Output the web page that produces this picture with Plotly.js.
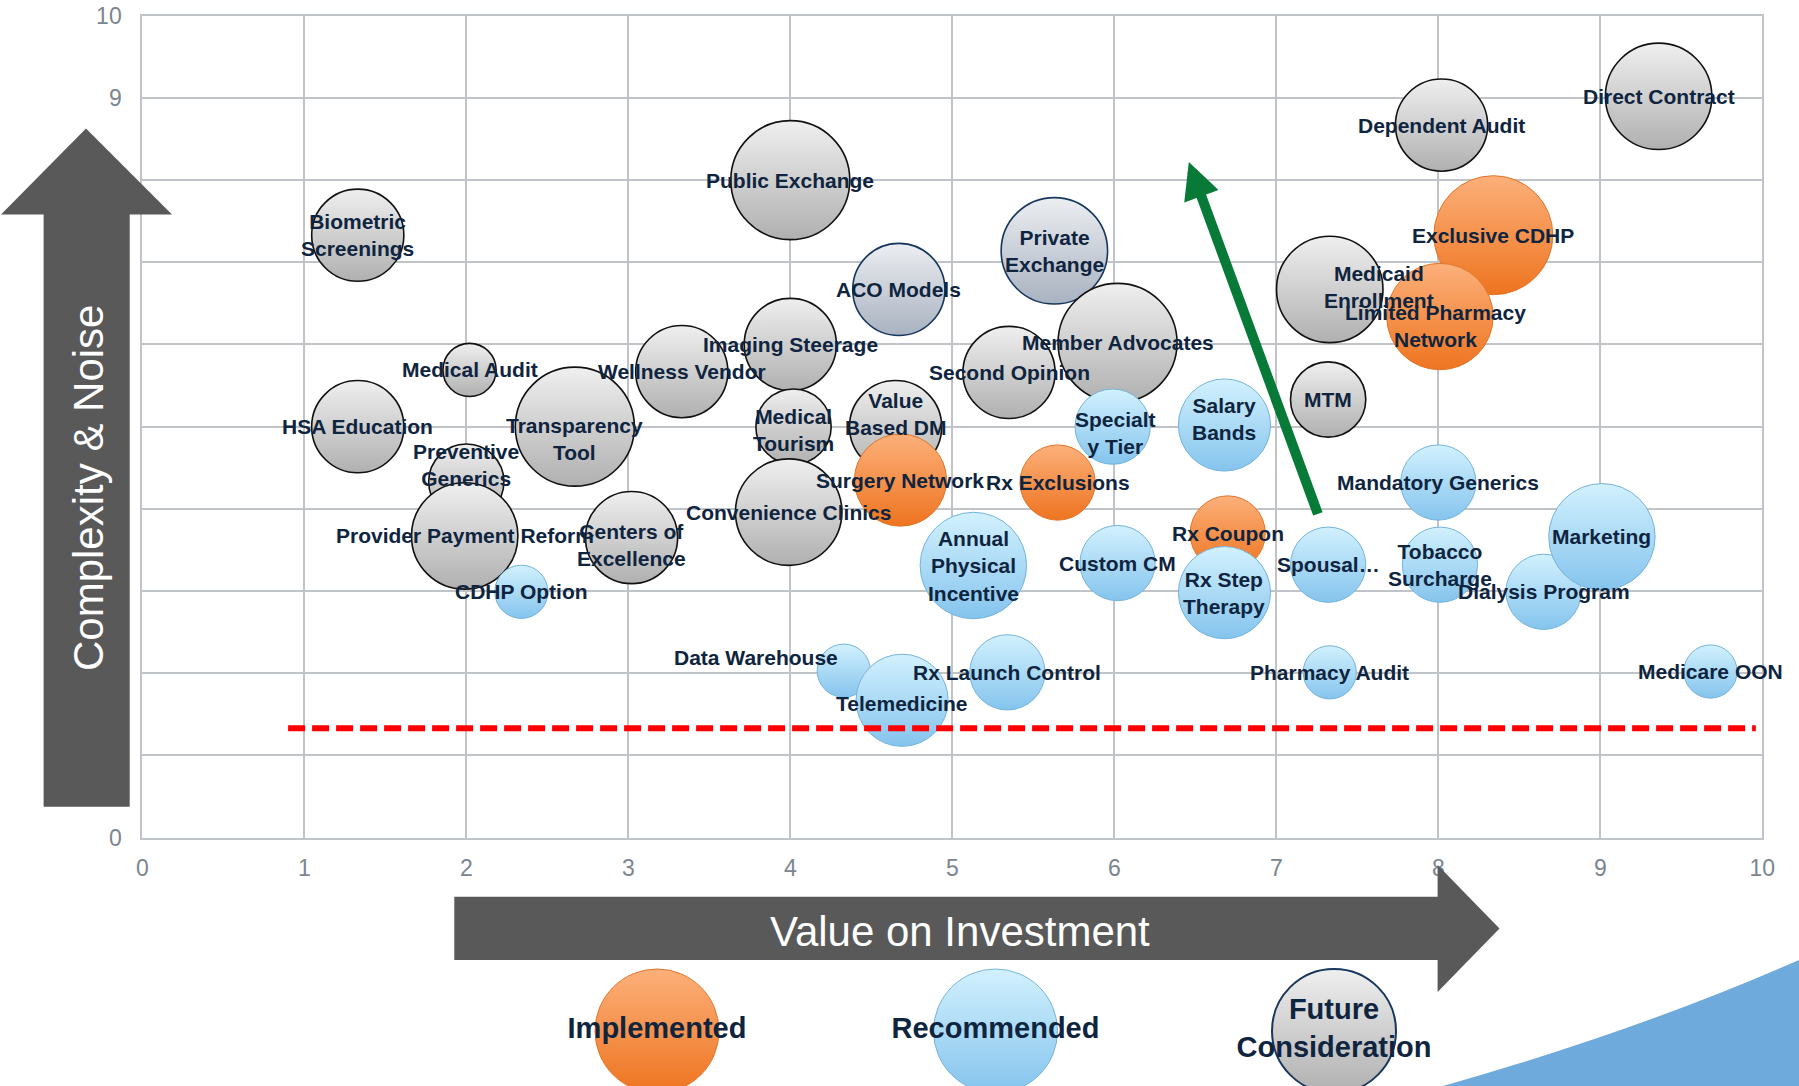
<!DOCTYPE html>
<html><head><meta charset="utf-8">
<script src="https://cdn.plot.ly/plotly-3.0.1.min.js"></script>
<style>html,body{margin:0;padding:0;background:#fff;overflow:hidden}#chart{width:1799px;height:1086px}</style>
</head><body><div id="chart"></div>
<script>
// ---------------- DATA ----------------
const labels = [
  'Biometric<br>Screenings','Public Exchange','Direct Contract','Dependent Audit','ACO Models',
  'Private<br>Exchange','Imaging Steerage','Medical Audit','Wellness Vendor','HSA Education',
  'Transparency<br>Tool','Preventive<br>Generics','Medical<br>Tourism','Value<br>Based DM','Second Opinion',
  'Member Advocates','Medicaid<br>Enrollment','MTM','Convenience Clinics','Provider Payment Reform',
  'Centers of<br>Excellence',
  'Exclusive CDHP','Limited Pharmacy<br>Network','Surgery Network','Rx Exclusions','Rx Coupon',
  'Specialt<br>y Tier','Salary<br>Bands','Mandatory Generics','Annual<br>Physical<br>Incentive','Custom CM',
  'Rx Step<br>Therapy','Spousal…','Tobacco<br>Surcharge','Dialysis Program','Marketing',
  'CDHP Option','Data Warehouse','Telemedicine','Rx Launch Control','Pharmacy Audit','Medicare OON'
];
const valueOnInvestment = [
  1.33, 4.00, 9.36, 8.02, 4.67,
  5.63, 4.00, 2.02, 3.33, 1.33,
  2.67, 2.00, 4.02, 4.65, 5.35,
  6.02, 7.33, 7.32, 3.99, 1.99,
  3.02,
  8.34, 8.01, 4.68, 5.65, 6.70,
  5.99, 6.68, 8.00, 5.13, 6.02,
  6.68, 7.32, 8.01, 8.65, 9.01,
  2.34, 4.33, 4.69, 5.34, 7.33, 9.68
];
const complexityNoise = [
  7.33, 8.00, 9.02, 8.67, 6.67,
  7.14, 6.00, 5.69, 5.67, 5.00,
  5.00, 4.33, 5.00, 5.00, 5.66,
  6.02, 6.67, 5.33, 3.96, 3.67,
  3.65,
  7.33, 6.34, 4.35, 4.32, 3.70,
  5.00, 5.02, 4.32, 3.31, 3.34,
  2.98, 3.32, 3.32, 2.99, 3.66,
  2.99, 2.03, 1.67, 2.01, 2.01, 2.02
];
const bubbleSize = [
  3, 5, 4, 3, 3,
  4, 3, 1, 3, 3,
  5, 2, 2, 3, 3,
  5, 4, 2, 4, 4,
  3,
  5, 4, 3, 2, 2,
  2, 3, 2, 4, 2,
  3, 2, 2, 2, 4,
  1, 1, 3, 2, 1, 1
];
const status = [
  'Future Consideration','Future Consideration','Future Consideration','Future Consideration','Future Consideration',
  'Future Consideration','Future Consideration','Future Consideration','Future Consideration','Future Consideration',
  'Future Consideration','Future Consideration','Future Consideration','Future Consideration','Future Consideration',
  'Future Consideration','Future Consideration','Future Consideration','Future Consideration','Future Consideration',
  'Future Consideration',
  'Implemented','Implemented','Implemented','Implemented','Implemented',
  'Recommended','Recommended','Recommended','Recommended','Recommended',
  'Recommended','Recommended','Recommended','Recommended','Recommended',
  'Recommended','Recommended','Recommended','Recommended','Recommended','Recommended'
];
const statusDrawOrder = ['Future Consideration','Implemented','Recommended'];
const legendStatus = ['Implemented','Recommended','Future Consideration'];
const legendText = ['Implemented','Recommended','Future<br>Consideration'];
const axisTicks = [0,1,2,3,4,5,6,7,8,9,10];
const thresholdComplexity = 1.33;
const thresholdSpan = [0.9, 9.96];
const trendFrom = [7.26, 3.92];
const trendTo = [6.46, 8.22];
const xTitle = 'Value on Investment';
const yTitle = 'Complexity &amp; Noise';

// ---------------- STYLE ----------------
const W = 1799, H = 1086;
const PL = 142.3, PR = 1762.3, PT = 15.8, PB = 837.5;
const px = v => v / W, py = v => 1 - v / H;
const FONT = 'Liberation Sans, Arial, Helvetica, sans-serif';
const TEXT_COLOR = '#0f243e';
const STYLE = {
  'Implemented':          {top: '#fcb07a', bottom: '#ee7420', line: '#e27528', lw: 1},
  'Recommended':          {top: '#d2f1fe', bottom: '#85c4ed', line: '#74b4dd', lw: 1},
  'Future Consideration': {top: '#efefef', bottom: '#b0b0b0', line: '#111111', lw: 1.6}
};
const NAVY = {top: '#eceef1', bottom: '#a9b2c1', line: '#17375e', lw: 1.6};
const navyBubbles = ['ACO Models', 'Private<br>Exchange'];
const labelShift = {
  'Medicaid<br>Enrollment': [49, 2],
  'Data Warehouse': [-88, 13],
  'Value<br>Based DM': [0, 13],
  'Preventive<br>Generics': [0, 17],
  'Transparency<br>Tool': [0, -12],
  'Limited Pharmacy<br>Network': [-4, -9],
  'Salary<br>Bands': [0, 6],
  'Specialt<br>y Tier': [3, -6],
  'Centers of<br>Excellence': [0, -7],
  'Medical<br>Tourism': [0, -3],
  'Telemedicine': [0, -3]
};
const maxDiameter = 119;
const sizeref = 2 * Math.max(...bubbleSize) / (maxDiameter * maxDiameter);

// ---------------- TRACES ----------------
const traces = statusDrawOrder.map(st => {
  const idx = labels.map((_, i) => i).filter(i => status[i] === st);
  const sty = i => navyBubbles.includes(labels[i]) ? NAVY : STYLE[st];
  return {
    type: 'scatter', mode: 'markers', name: st, showlegend: false,
    x: idx.map(i => valueOnInvestment[i]),
    y: idx.map(i => complexityNoise[i]),
    text: idx.map(i => labels[i]),
    hoverinfo: 'text',
    cliponaxis: false,
    marker: {
      size: idx.map(i => bubbleSize[i]),
      sizemode: 'area', sizeref: sizeref,
      color: idx.map(i => sty(i).top),
      gradient: {type: 'vertical', color: idx.map(i => sty(i).bottom)},
      line: {color: idx.map(i => sty(i).line), width: idx.map(i => sty(i).lw)},
      opacity: 1
    }
  };
});

traces.push({
  type: 'scatter', mode: 'markers+text', xaxis: 'x2', yaxis: 'y2', showlegend: false,
  x: legendStatus.map((_, i) => i),
  y: legendStatus.map(() => 0),
  text: legendText,
  textposition: 'middle center',
  textfont: {family: FONT, size: 29, color: TEXT_COLOR, weight: 'bold'},
  cliponaxis: false, hoverinfo: 'skip',
  marker: {
    size: 124,
    color: legendStatus.map(s => STYLE[s].top),
    gradient: {type: 'vertical', color: legendStatus.map(s => STYLE[s].bottom)},
    line: {color: legendStatus.map(s => s === 'Future Consideration' ? '#17375e' : STYLE[s].line),
           width: legendStatus.map(s => s === 'Future Consideration' ? 2 : 1)}
  }
});

// ---------------- ANNOTATIONS ----------------
const annotations = labels.map((t, i) => ({
  x: valueOnInvestment[i], y: complexityNoise[i], xref: 'x', yref: 'y',
  text: t, showarrow: false, xanchor: 'center', yanchor: 'middle',
  xshift: (labelShift[t] || [0, 0])[0], yshift: (labelShift[t] || [0, 0])[1],
  font: {family: FONT, size: 21, color: TEXT_COLOR, weight: 'bold'}
}));
annotations.push({
  x: trendTo[0], y: trendTo[1], xref: 'x', yref: 'y',
  ax: trendFrom[0], ay: trendFrom[1], axref: 'x', ayref: 'y',
  text: '', showarrow: true, arrowhead: 2, arrowsize: 0.73, arrowwidth: 10, arrowcolor: '#067a36'
});
annotations.push({
  x: px(89), y: py(488), xref: 'paper', yref: 'paper', text: yTitle, textangle: -90,
  showarrow: false, xanchor: 'center', yanchor: 'middle',
  font: {family: FONT, size: 42, color: '#ffffff'}
});
annotations.push({
  x: px(960), y: py(931), xref: 'paper', yref: 'paper', text: xTitle,
  showarrow: false, xanchor: 'center', yanchor: 'middle',
  font: {family: FONT, size: 42, color: '#ffffff'}
});

// ---------------- SHAPES ----------------
const poly = pts => 'M' + pts.map(p => px(p[0]).toFixed(5) + ',' + py(p[1]).toFixed(5)).join('L') + 'Z';
const shapes = [
  {type: 'path', xref: 'paper', yref: 'paper', layer: 'above', fillcolor: '#595959', line: {width: 0},
   path: poly([[43.6, 806.7], [43.6, 214.5], [1, 214.5], [86, 128.5], [172, 214.5], [129.7, 214.5], [129.7, 806.7]])},
  {type: 'path', xref: 'paper', yref: 'paper', layer: 'above', fillcolor: '#595959', line: {width: 0},
   path: poly([[454.3, 896.7], [1437.6, 896.7], [1437.6, 865], [1499.5, 928.4], [1437.6, 992], [1437.6, 960], [454.3, 960]])},
  {type: 'path', xref: 'paper', yref: 'paper', layer: 'above', fillcolor: '#6eaadb', line: {width: 0},
   path: 'M' + px(1443) + ',' + py(1086) + 'Q' + px(1640) + ',' + py(1030) + ' ' + px(1799) + ',' + py(960) +
         'L' + px(1799) + ',' + py(1086) + 'Z'},
  {type: 'line', xref: 'x', yref: 'y', layer: 'above',
   x0: thresholdSpan[0], x1: thresholdSpan[1], y0: thresholdComplexity, y1: thresholdComplexity,
   line: {color: '#ff0000', width: 6, dash: '17px,7px'}}
];

// ---------------- LAYOUT ----------------
const gridColor = '#c0c4c9';
const axisCommon = {
  range: [0, 10], tickvals: axisTicks, ticktext: axisTicks.map(String),
  showgrid: true, gridcolor: gridColor, gridwidth: 2,
  zeroline: false, showline: true, linecolor: gridColor, linewidth: 2, mirror: true,
  ticks: '', fixedrange: true,
  tickfont: {family: FONT, size: 23, color: '#7b858f'}
};
const layout = {
  width: W, height: H,
  margin: {l: 0, r: 0, t: 0, b: 0},
  paper_bgcolor: '#ffffff', plot_bgcolor: '#ffffff',
  showlegend: false,
  xaxis: Object.assign({}, axisCommon, {domain: [px(PL), px(PR)], anchor: 'y', ticklabelstandoff: 9}),
  yaxis: Object.assign({}, axisCommon, {domain: [py(PB), py(PT)], anchor: 'x', ticklabelstandoff: 14}),
  xaxis2: {domain: [px(657 - 169.25), px(1334 + 169.25)], range: [-0.5, 2.5], visible: false, anchor: 'y2', fixedrange: true},
  yaxis2: {domain: [0, 2 * (H - 1031) / H], range: [-1, 1], visible: false, anchor: 'x2', fixedrange: true},
  shapes: shapes,
  annotations: annotations,
  font: {family: FONT}
};

Plotly.newPlot('chart', traces, layout, {displayModeBar: false, staticPlot: true});
</script>
</body></html>
